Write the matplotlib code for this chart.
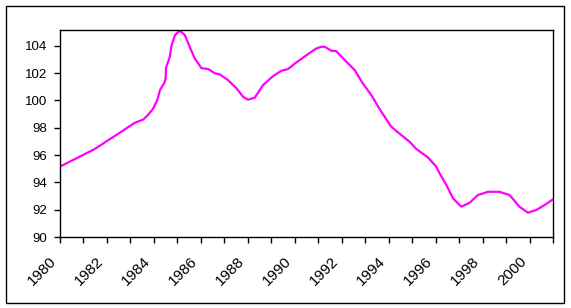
import matplotlib
matplotlib.use("Agg")
import matplotlib.pyplot as plt
import matplotlib.transforms as mtransforms
from matplotlib.patches import Rectangle

# values (decimal year, index)
years = [1980.0, 1981.49, 1982.34, 1983.19, 1983.55, 1983.76, 1983.97, 1984.14,
         1984.26, 1984.45, 1984.5, 1984.52, 1984.68, 1984.75, 1984.9, 1985.1,
         1985.32, 1985.53, 1985.74, 1986.03, 1986.31, 1986.6, 1986.81, 1987.16,
         1987.52, 1987.8, 1988.01, 1988.3, 1988.51, 1988.65, 1989.08, 1989.43,
         1989.71, 1990.07, 1990.57, 1990.92, 1991.13, 1991.28, 1991.56, 1991.77,
         1992.2, 1992.55, 1992.9, 1993.26, 1993.62, 1994.11, 1994.54, 1994.89,
         1995.18, 1995.67, 1996.03, 1996.17, 1996.46, 1996.74, 1997.09, 1997.45,
         1997.8, 1998.23, 1998.72, 1999.15, 1999.57, 1999.93, 2000.29, 2000.64,
         2001.0]
values = [95.15, 96.45, 97.4, 98.36, 98.6, 98.95, 99.4, 100.0,
          100.75, 101.3, 101.6, 102.4, 103.2, 104.0, 104.78, 105.1,
          104.78, 103.9, 103.07, 102.35, 102.3, 101.98, 101.9, 101.48,
          100.88, 100.26, 100.05, 100.2, 100.75, 101.12, 101.78, 102.17,
          102.29, 102.78, 103.39, 103.8, 103.92, 103.92, 103.63, 103.6,
          102.82, 102.22, 101.24, 100.39, 99.35, 98.07, 97.46, 96.97,
          96.44, 95.83, 95.14, 94.66, 93.8, 92.83, 92.22, 92.51,
          93.07, 93.31, 93.31, 93.07, 92.22, 91.78, 91.98, 92.34,
          92.76]
label_years = list(range(1980, 2001, 2))
minor_years = list(range(1980, 2002))
y_ticks = list(range(90, 105, 2))

plt.rcParams['font.family'] = ['Liberation Sans', 'DejaVu Sans']

fig = plt.figure(figsize=(5.71, 3.08), dpi=100)
ax = fig.add_axes([0.105, 0.2305, 0.8635, 0.6721])

ax.plot(years, values, color='#FF00FF', linewidth=1.6)

ax.set_xlim(1980, 2001)
ax.set_ylim(90, 105.15)
ax.set_yticks(y_ticks)
ax.set_xticks(label_years)
ax.set_xticks(minor_years, minor=True)
ax.set_xticklabels([str(y) for y in label_years], rotation=45, ha='right',
                   va='top', rotation_mode='anchor', fontsize=11)
ax.tick_params(axis='both', which='both', direction='out', length=4,
               width=1, color='black')
ax.tick_params(axis='y', labelsize=9.5, pad=5.5)
ax.tick_params(axis='x', pad=8.5)

# labels sit left of their tick, like the reference
shift = mtransforms.ScaledTranslation(-7.5 / 72, 0, fig.dpi_scale_trans)
for lab in ax.get_xticklabels():
    lab.set_transform(lab.get_transform() + shift)

for s in ax.spines.values():
    s.set_linewidth(1)
    s.set_color('black')

fig.patches.append(Rectangle((0.0105, 0.016), 0.977, 0.964, fill=False,
                             edgecolor='black', linewidth=1,
                             transform=fig.transFigure))

fig.savefig('out.png', dpi=100)
